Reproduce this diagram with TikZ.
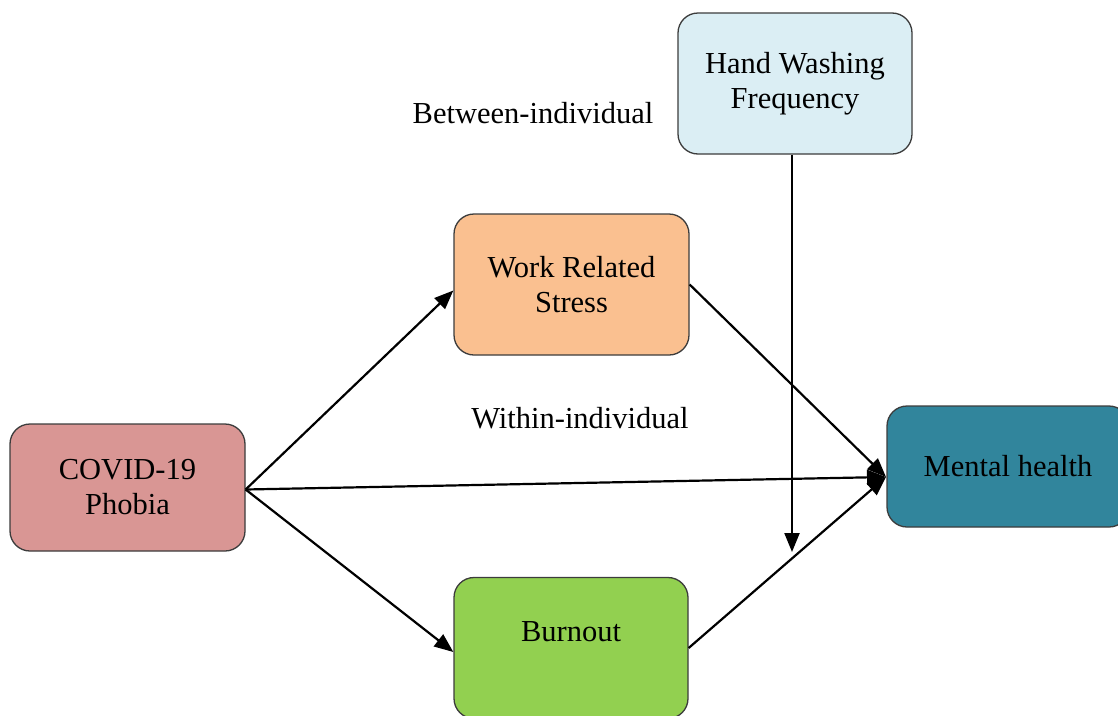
\documentclass[tikz,border=0pt]{standalone}
\usepackage{fontspec}
\setmainfont{Liberation Serif}
\usetikzlibrary{arrows.meta}
\definecolor{cpink}{RGB}{217,150,148}
\definecolor{cblue}{RGB}{219,238,244}
\definecolor{corange}{RGB}{250,192,144}
\definecolor{cteal}{RGB}{49,133,156}
\definecolor{cgreen}{RGB}{146,208,80}
\definecolor{cborder}{RGB}{60,60,60}
\begin{document}
\begin{tikzpicture}[x=1pt,y=-1pt,
  box/.style={draw=cborder, line width=1.3pt, rounded corners=20pt, align=center,
    inner sep=0pt, font=\fontsize{30.5}{35}\selectfont},
  lbl/.style={font=\fontsize{30.5}{35}\selectfont, inner sep=0pt},
  arr/.style={line width=2.2pt, -{Triangle[length=19pt,width=15pt]}}]
\useasboundingbox (0,0) rectangle (1118,715);
\clip (0,0) rectangle (1118,715);
\node[box, fill=cpink, minimum width=235pt, minimum height=127pt] (covid) at (127.5,487.5) {COVID-19\\Phobia};
\node[box, fill=cblue, minimum width=234pt, minimum height=141pt] (hand) at (795,83.5) {Hand Washing\\Frequency};
\node[box, fill=corange, minimum width=235pt, minimum height=141pt] (work) at (571.5,284.5) {Work Related\\Stress};
\node[box, fill=cteal, minimum width=242pt, minimum height=121pt] (mental) at (1008,466.5) {Mental health};
\node[box, fill=cgreen, minimum width=234pt, minimum height=141pt] (burn) at (571,648) {};
\node[lbl] (burntxt) at (571,632) {Burnout};
\node[lbl] (between) at (533,113) {Between-individual};
\node[lbl] (within) at (580,418) {Within-individual};
\coordinate (hwend) at (792,552);
\coordinate (mh) at (886,477);
\draw[arr] ([yshift=-2pt]covid.east) -- ([yshift=-6pt]work.west);
\draw[arr] ([yshift=-2pt]covid.east) -- ([yshift=-4pt]burn.west);
\draw[arr] ([yshift=-2pt]covid.east) -- (mh);
\draw[arr] (work.east) -- (mh);
\draw[arr] (burn.east) -- (mh);
\draw[arr] ([xshift=-3pt]hand.south) -- (hwend);
\end{tikzpicture}
\end{document}
